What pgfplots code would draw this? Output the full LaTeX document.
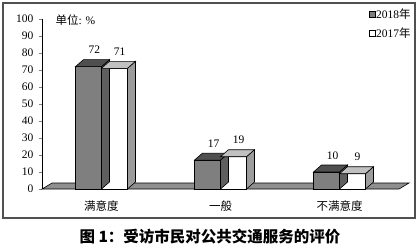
\documentclass[border=0pt]{standalone}
\usepackage{pgfplots}
\pgfplotsset{compat=1.18}
\usepackage{pgfplotstable}
\usepackage{fontspec}
\setmainfont{Liberation Serif}
\newfontfamily\cjk{Noto Sans CJK SC}
\definecolor{afront}{HTML}{7F7F7F}
\definecolor{atop}{HTML}{4F4F4F}
\definecolor{aside}{HTML}{5F5F5F}
\definecolor{btop}{HTML}{C0C0C0}
\definecolor{bside}{HTML}{9C9C9C}
\definecolor{floorc}{HTML}{8F8F8F}
\definecolor{framec}{HTML}{505050}
\pgfplotstableread{
x v
0 72
1 17
2 10
}\dataA
\pgfplotstableread{
x v
0 71
1 19
2 9
}\dataB
% 3D faces: mark placed at (category, value); A-bar spans -26pt..0, B-bar 0..26pt
\pgfdeclareplotmark{faceA}{%
  \pgfmathsetmacro\hh{\val*1.7}%
  \pgfsetfillcolor{aside}%
  \pgfpathmoveto{\pgfpoint{0pt}{0pt}}%
  \pgfpathlineto{\pgfpoint{8pt}{7pt}}%
  \pgfpathlineto{\pgfpoint{8pt}{7pt-\hh pt}}%
  \pgfpathlineto{\pgfpoint{0pt}{-\hh pt}}%
  \pgfpathclose\pgfusepath{fill,stroke}%
  \pgfsetfillcolor{atop}%
  \pgfpathmoveto{\pgfpoint{-26pt}{0pt}}%
  \pgfpathlineto{\pgfpoint{-18pt}{7pt}}%
  \pgfpathlineto{\pgfpoint{8pt}{7pt}}%
  \pgfpathlineto{\pgfpoint{0pt}{0pt}}%
  \pgfpathclose\pgfusepath{fill,stroke}%
}
\pgfdeclareplotmark{faceB}{%
  \pgfmathsetmacro\hh{\val*1.7}%
  \pgfsetfillcolor{bside}%
  \pgfpathmoveto{\pgfpoint{26pt}{0pt}}%
  \pgfpathlineto{\pgfpoint{34pt}{7pt}}%
  \pgfpathlineto{\pgfpoint{34pt}{7pt-\hh pt}}%
  \pgfpathlineto{\pgfpoint{26pt}{-\hh pt}}%
  \pgfpathclose\pgfusepath{fill,stroke}%
  \pgfsetfillcolor{btop}%
  \pgfpathmoveto{\pgfpoint{0pt}{0pt}}%
  \pgfpathlineto{\pgfpoint{8pt}{7pt}}%
  \pgfpathlineto{\pgfpoint{34pt}{7pt}}%
  \pgfpathlineto{\pgfpoint{26pt}{0pt}}%
  \pgfpathclose\pgfusepath{fill,stroke}%
}
\begin{document}
\begin{tikzpicture}
\useasboundingbox (-42pt,-58pt) rectangle (378pt,189pt);
\draw[framec, line width=1.2pt] (-39pt,-29pt) rectangle (373pt,186pt);
\begin{axis}[
  at={(0,0)}, anchor=south west,
  scale only axis, width=357pt, height=170pt,
  xmin=-0.5, xmax=2.5, ymin=0, ymax=100,
  clip=false,
  axis lines*=left,
  axis line style={-, line width=0.6pt},
  x axis line style={draw=none},
  xtick={0,1,2},
  xticklabels={满意度,一般,不满意度},
  xtick style={draw=none},
  xticklabel style={font=\cjk\fontsize{11.5}{13}\selectfont, yshift=-5pt},
  ytick={0,10,...,100},
  tick align=outside,
  major tick length=3pt,
  ytick style={line width=0.6pt},
  yticklabel style={font=\fontsize{11.5}{13}\selectfont, xshift=-2pt},
  /pgf/number format/assume math mode=true,
  legend style={draw=none, fill=none, at={(1.036,1.07)}, anchor=north east,
     font=\fontsize{11.5}{13}\selectfont, row sep=6pt, inner sep=0pt,
     nodes={inner sep=1pt}},
  legend cell align=left,
]
% floor
\filldraw[fill=floorc, draw=black, line width=0.6pt]
  (axis cs:-0.5,0) -- ++(10pt,6pt) -- ++(357pt,0pt) -- ++(-10pt,-6pt) -- cycle;

\addplot[ybar, bar width=26pt, bar shift=-13pt, fill=afront, draw=black, line width=0.6pt,
  nodes near coords, nodes near coords style={anchor=south, xshift=-7pt, yshift=9pt, font=\fontsize{11.5}{13}\selectfont},
  legend image code/.code={\draw[fill=afront,draw=black,line width=0.5pt] (0pt,-3pt) rectangle (6pt,3pt);}]
  table[x=x,y=v]{\dataA};
\addlegendentry{2018{\cjk 年}}
\addplot[only marks, forget plot, mark=faceA, mark options={draw=black, line width=0.6pt},
  visualization depends on={\thisrow{v} \as \val}]
  table[x=x,y=v]{\dataA};

\addplot[ybar, bar width=26pt, bar shift=13pt, fill=white, draw=black, line width=0.6pt,
  nodes near coords, nodes near coords style={anchor=south, xshift=18pt, yshift=9pt, font=\fontsize{11.5}{13}\selectfont},
  legend image code/.code={\draw[fill=white,draw=black,line width=0.5pt] (0pt,-3pt) rectangle (6pt,3pt);}]
  table[x=x,y=v]{\dataB};
\addlegendentry{2017{\cjk 年}}
\addplot[only marks, forget plot, mark=faceB, mark options={draw=black, line width=0.6pt},
  visualization depends on={\thisrow{v} \as \val}]
  table[x=x,y=v]{\dataB};

\node[anchor=west, font=\fontsize{11.5}{13}\selectfont] at (rel axis cs:0.028,0.994) {{\cjk 单位}: \%};
\end{axis}
\node[font=\cjk\bfseries\fontsize{15.5}{17}\selectfont] at (168pt,-48pt) {图 1：受访市民对公共交通服务的评价};
\end{tikzpicture}
\end{document}
